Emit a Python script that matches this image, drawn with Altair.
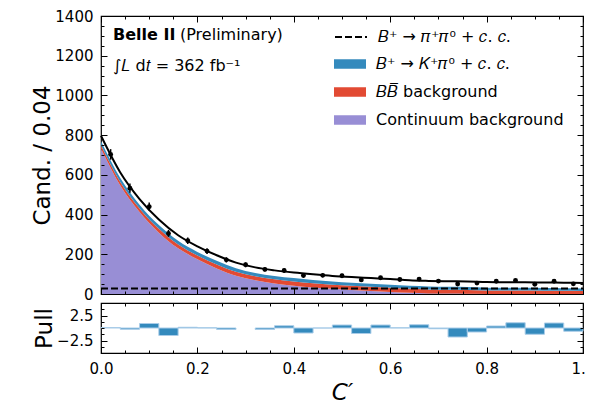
import altair as alt
import pandas as pd
import numpy as np

FONT = "DejaVu Sans"

# ---- fitted components on a grid of C' ----
grid_x = [0.00, 0.04, 0.08, 0.12, 0.16, 0.20, 0.24, 0.28, 0.32, 0.36, 0.40, 0.44, 0.48,
          0.52, 0.56, 0.60, 0.64, 0.68, 0.72, 0.76, 0.80, 0.84, 0.88, 0.92, 0.96, 1.00]
continuum = [731, 546, 413, 309, 230, 175, 129, 92, 69, 53, 42, 33, 26,
             20, 15, 10, 6, 3, 2, 1, 0, 0, 0, 0, 0, 0]
bbbar = [18, 18, 18, 19, 19, 19, 20, 20, 20, 21, 21, 21, 21,
         21, 21, 21, 20, 20, 19, 19, 18, 17, 17, 16, 16, 15]
kpi0 = [20, 20, 19, 19, 19, 18, 18, 18, 17, 17, 17, 17, 16,
        16, 16, 16, 15, 15, 15, 15, 14, 14, 14, 14, 13, 13]
pipi0 = [28, 28, 28, 28, 28, 28, 28, 28, 28, 28, 28, 28, 28,
         28, 28, 28, 28, 28, 28, 28, 28, 28, 28, 28, 28, 28]

# ---- data points (bin centres, counts) and pulls ----
bin_centers = [0.02, 0.06, 0.10, 0.14, 0.18, 0.22, 0.26, 0.30, 0.34, 0.38, 0.42, 0.46, 0.50,
               0.54, 0.58, 0.62, 0.66, 0.70, 0.74, 0.78, 0.82, 0.86, 0.90, 0.94, 0.98]
counts = [703, 533, 440, 305, 268, 216, 172, 147, 124, 118, 93, 94, 92,
          71, 82, 73, 75, 65, 50, 55, 64, 68, 49, 64, 51]
pulls = [0.1, -0.25, 0.9, -1.5, 0.15, 0.05, -0.3, None, -0.3, 0.45, -1.0, 0.0, 0.6,
         -1.1, 0.6, 0.05, 0.65, -0.15, -1.8, -0.8, 0.4, 1.05, -1.25, 1.0, -0.65]
bin_width = 0.04

fill_keys = ["kp", "bb", "cont"]
fill_colors = ["#348ABD", "#E24A33", "#988ED5"]

x_major = [0.0, 0.2, 0.4, 0.6, 0.8, 1.0]
x_minor = [0.0, 0.05, 0.1, 0.15, 0.2, 0.25, 0.3, 0.35, 0.4, 0.45, 0.5, 0.55, 0.6, 0.65,
           0.7, 0.75, 0.8, 0.85, 0.9, 0.95, 1.0]
y_major = [0, 200, 400, 600, 800, 1000, 1200, 1400]
y_minor = [0, 50, 100, 150, 200, 250, 300, 350, 400, 450, 500, 550, 600, 650, 700, 750, 800,
           850, 900, 950, 1000, 1050, 1100, 1150, 1200, 1250, 1300, 1350, 1400]
pull_major = [-2.5, 2.5]
pull_minor = [-5, -3.75, -2.5, -1.25, 0, 1.25, 2.5, 3.75, 5]

# ---- tables ----
rows = []
for i, xv in enumerate(grid_x):
    c, b, k = continuum[i], bbbar[i], kpi0[i]
    rows.append({"x": xv, "lo": 0, "hi": c, "comp": "cont"})
    rows.append({"x": xv, "lo": c, "hi": c + b, "comp": "bb"})
    rows.append({"x": xv, "lo": c + b, "hi": c + b + k, "comp": "kp"})
df_area = pd.DataFrame(rows)
df_curve = pd.DataFrame({
    "x": grid_x,
    "pp": pipi0,
    "comp": ["pp"] * len(grid_x),
    "total": [continuum[i] + bbbar[i] + kpi0[i] + pipi0[i] for i in range(len(grid_x))],
})
cnt = np.array(counts, dtype=float)
df_pts = pd.DataFrame({"x": bin_centers, "n": counts,
                       "elo": cnt - np.sqrt(cnt), "ehi": cnt + np.sqrt(cnt)})
df_pull = pd.DataFrame([
    {"x0": c - bin_width / 2, "x1": c + bin_width / 2, "zero": 0.0, "pull": p}
    for c, p in zip(bin_centers, pulls) if p is not None
])

xs = alt.Scale(domain=[0, 1], nice=False, zero=False)
ys_main = alt.Scale(domain=[0, 1400], nice=False)
ys_pull = alt.Scale(domain=[-5, 5], nice=False)


def ax(orient, values, size, labels=False, title=None, fmt=None, tpad=2, italic=False):
    kw = dict(orient=orient, values=values, tickSize=size, offset=-size, domain=False,
              ticks=True, tickColor="black", tickWidth=1, labels=labels, grid=False,
              title=title, zindex=1)
    if labels:
        kw.update(labelFontSize=15, labelColor="black", labelPadding=8, labelFlush=False,
                  labelOverlap=False, labelFont=FONT, format=fmt)
    if title is not None:
        kw.update(titleFontSize=23, titleFontWeight="normal", titleColor="black",
                  titleFont=FONT, titlePadding=tpad)
        if italic:
            kw.update(titleFontStyle="italic")
    return alt.Axis(**kw)


def axis_layers(df, xf, yf, ysc, xmaj, xmin, ymaj, ymin, xlab, xtitle, ytitle, yfmt, xtpad, ytpad):
    specs = [
        (ax("bottom", xmaj, 6, labels=xlab, title=xtitle, fmt=".1f", tpad=xtpad, italic=True),
         ax("left", ymaj, 6, labels=True, title=ytitle, fmt=yfmt, tpad=ytpad)),
        (ax("bottom", xmin, 3), ax("left", ymin, 3)),
        (ax("top", xmaj, 6), ax("right", ymaj, 6)),
        (ax("top", xmin, 3), ax("right", ymin, 3)),
    ]
    out = []
    for xa, ya in specs:
        out.append(alt.Chart(df).mark_point(opacity=0).encode(
            x=alt.X(f"{xf}:Q", scale=xs, axis=xa),
            y=alt.Y(f"{yf}:Q", scale=ysc, axis=ya),
        ))
    return out


sym_rect = "M-1,-0.3H1V0.3H-1Z"
fill_legend = alt.Legend(
    title=None, orient="none", legendX=233, legendY=40, padding=0,
    symbolType=sym_rect, symbolSize=1024, clipHeight=16, rowPadding=12,
    symbolStrokeWidth=0, symbolOpacity=1,
    labelFont=FONT, labelFontSize=16, labelColor="black", labelOffset=10, labelLimit=400,
    labelExpr=("datum.value == 'kp' ? '𝐵⁺ → 𝐾⁺𝜋⁰ + 𝑐. 𝑐.' : "
               "datum.value == 'bb' ? '𝐵𝐵̅ background' : 'Continuum background'"),
)
dash_legend = alt.Legend(
    title=None, orient="none", legendX=233, legendY=13, padding=0,
    symbolType="M-1,0H1", symbolSize=1024, clipHeight=16,
    symbolStrokeWidth=2, symbolStrokeColor="black",
    labelFont=FONT, labelFontSize=16, labelColor="black", labelOffset=10, labelLimit=400,
    labelExpr="'𝐵⁺ → 𝜋⁺𝜋⁰ + 𝑐. 𝑐.'",
)

area = alt.Chart(df_area).mark_area(interpolate="monotone", opacity=1).encode(
    x=alt.X("x:Q", scale=xs, axis=None),
    y=alt.Y("lo:Q", scale=ys_main, axis=None),
    y2="hi:Q",
    fill=alt.Fill("comp:N", scale=alt.Scale(domain=fill_keys, range=fill_colors),
                  legend=fill_legend),
)
pp_line = alt.Chart(df_curve).mark_line(color="black", strokeWidth=2).encode(
    x=alt.X("x:Q", scale=xs, axis=None),
    y=alt.Y("pp:Q", scale=ys_main, axis=None),
    strokeDash=alt.StrokeDash("comp:N", scale=alt.Scale(domain=["pp"], range=[[7, 3]]),
                              legend=dash_legend),
)
total_line = alt.Chart(df_curve).mark_line(color="black", strokeWidth=2,
                                           interpolate="monotone").encode(
    x=alt.X("x:Q", scale=xs, axis=None),
    y=alt.Y("total:Q", scale=ys_main, axis=None),
)
errs = alt.Chart(df_pts).mark_rule(color="black", strokeWidth=1.5).encode(
    x=alt.X("x:Q", scale=xs, axis=None),
    y=alt.Y("elo:Q", scale=ys_main, axis=None),
    y2="ehi:Q",
)
pts = alt.Chart(df_pts).mark_circle(color="black", size=24, opacity=1).encode(
    x=alt.X("x:Q", scale=xs, axis=None),
    y=alt.Y("n:Q", scale=ys_main, axis=None),
)

dummy = pd.DataFrame({"a": [0]})
t1 = alt.Chart(dummy).mark_text(text="Belle II", font=FONT, fontSize=16, fontWeight="bold",
                                align="left", baseline="alphabetic", color="black").encode(
    x=alt.value(12), y=alt.value(24))
t2 = alt.Chart(dummy).mark_text(text="(Preliminary)", font=FONT, fontSize=16,
                                align="left", baseline="alphabetic", color="black").encode(
    x=alt.value(79), y=alt.value(24))
t3 = alt.Chart(dummy).mark_text(text="∫𝐿 d𝑡 = 362 fb⁻¹", font=FONT, fontSize=16,
                                align="left", baseline="alphabetic", color="black").encode(
    x=alt.value(12), y=alt.value(55))

main = alt.layer(
    area, pp_line, total_line, errs, pts, t1, t2, t3,
    *axis_layers(df_pts, "x", "n", ys_main, x_major, x_minor, y_major, y_minor,
                 False, None, "Cand. / 0.04", "d", 4, 0),
).resolve_axis(x="independent", y="independent").properties(width=482, height=278)

bars = alt.Chart(df_pull).mark_rect(color="#348ABD", stroke="#a9cce8", strokeWidth=1).encode(
    x=alt.X("x0:Q", scale=xs, axis=None),
    x2="x1:Q",
    y=alt.Y("zero:Q", scale=ys_pull, axis=None),
    y2="pull:Q",
)
pull = alt.layer(
    bars,
    *axis_layers(df_pull, "x0", "pull", ys_pull, x_major, x_minor, pull_major, pull_minor,
                 True, "C′", "Pull", ".1f", 5, 0),
).resolve_axis(x="independent", y="independent").properties(width=482, height=50)

chart = alt.vconcat(main, pull, spacing=-5).properties(
    padding={"left": 23, "top": 0, "right": -10, "bottom": 0}
).configure(font=FONT).configure_view(stroke="black", strokeWidth=1.2)

chart.save("out.html", embed_options={"renderer": "svg", "actions": False})
